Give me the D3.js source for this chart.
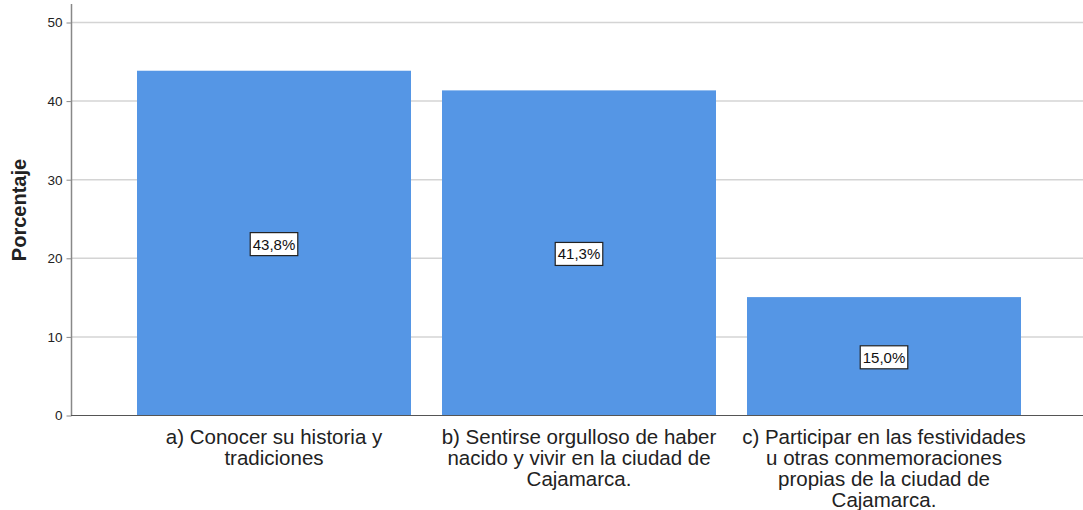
<!DOCTYPE html>
<html>
<head>
<meta charset="utf-8">
<script src="https://cdn.jsdelivr.net/npm/d3@7"></script>
<style>
  body { margin: 0; background: #fff; }
  text { font-family: "Liberation Sans", Arial, sans-serif; }
</style>
</head>
<body>
<div id="chart"></div>
<script>
// data
var categories = [
  ["a) Conocer su historia y", "tradiciones"],
  ["b) Sentirse orgulloso de haber", "nacido y vivir en la ciudad de", "Cajamarca."],
  ["c) Participar en las festividades", "u otras conmemoraciones", "propias de la ciudad de", "Cajamarca."]
];
var values = [43.8, 41.3, 15.0];
var valueLabels = ["43,8%", "41,3%", "15,0%"];
var yTicks = [0, 10, 20, 30, 40, 50];

var width = 1083, height = 510;
var svg = d3.select('#chart').append('svg').attr('width', width).attr('height', height);

var y = d3.scaleLinear().domain([0, 50]).range([415, 22]);
var x = d3.scaleBand().domain(d3.range(values.length))
  .range([121.5, 1036.5]).paddingInner(31 / 305).paddingOuter(31 / 610);

// gridlines
svg.selectAll('line.grid').data(yTicks.filter(function (d) { return d > 0; }))
  .enter().append('line')
  .attr('x1', 72).attr('x2', width)
  .attr('y1', function (d) { return y(d) + 0.5; })
  .attr('y2', function (d) { return y(d) + 0.5; })
  .attr('stroke', '#d4d4d4').attr('stroke-width', 1.5);

// bars
svg.selectAll('rect.bar').data(values).enter().append('rect')
  .attr('x', function (d, i) { return x(i); })
  .attr('width', x.bandwidth())
  .attr('y', function (d) { return y(d); })
  .attr('height', function (d) { return y(0) - y(d); })
  .attr('fill', '#5596e5');

// y axis
var yAxis = d3.axisLeft(y).tickValues(yTicks).tickSize(5).tickPadding(4);
var gy = svg.append('g').attr('transform', 'translate(71.5,0.5)').call(yAxis);
gy.select('.domain').remove();
gy.selectAll('.tick line').attr('stroke', '#888');
gy.selectAll('.tick text').attr('font-size', 13.5).attr('fill', '#222')
  .style('font-family', '"Liberation Sans", Arial, sans-serif');
svg.append('line').attr('x1', 71.5).attr('x2', 71.5).attr('y1', 4).attr('y2', 415.5)
  .attr('stroke', '#888').attr('stroke-width', 1.5);

// baseline
svg.append('line').attr('x1', 71).attr('x2', width).attr('y1', 415.5).attr('y2', 415.5)
  .attr('stroke', '#555').attr('stroke-width', 1.2);

// y label
svg.append('text').attr('transform', 'translate(26,210) rotate(-90)')
  .attr('text-anchor', 'middle').attr('font-size', 20).attr('font-weight', 'bold')
  .attr('fill', '#222').text('Porcentaje');

// category labels
var cat = svg.selectAll('text.cat').data(categories).enter().append('text')
  .attr('text-anchor', 'middle').attr('font-size', 20.5).attr('fill', '#222');
cat.selectAll('tspan').data(function (d, i) { return d.map(function (s) { return {s: s, i: i}; }); })
  .enter().append('tspan')
  .attr('x', function (d) { return x(d.i) + x.bandwidth() / 2; })
  .attr('y', function (d, j) { return 444 + j * 21; })
  .text(function (d) { return d.s; });

// value labels
var lab = svg.selectAll('g.vlab').data(values).enter().append('g')
  .attr('transform', function (d, i) {
    return 'translate(' + (x(i) + x.bandwidth() / 2) + ',' + ((y(d) + y(0)) / 2 + 1.5) + ')';
  });
lab.append('text').attr('text-anchor', 'middle').attr('dy', '0.35em')
  .attr('font-size', 15).attr('fill', '#111')
  .text(function (d, i) { return valueLabels[i]; });
lab.each(function () {
  var g = d3.select(this);
  var bb = g.select('text').node().getBBox();
  g.insert('rect', 'text').attr('x', bb.x - 2.5).attr('y', bb.y - 3)
    .attr('width', bb.width + 5).attr('height', bb.height + 6)
    .attr('fill', '#fff').attr('stroke', '#222').attr('stroke-width', 1.2);
});
</script>
</body>
</html>
